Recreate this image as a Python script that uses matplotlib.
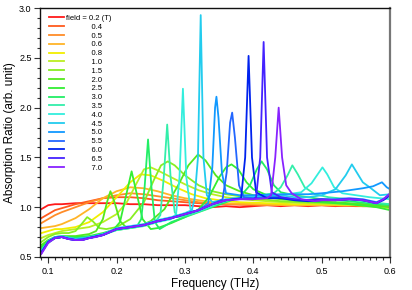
import matplotlib
matplotlib.use("Agg")
import matplotlib.pyplot as plt
from matplotlib.ticker import MultipleLocator

plt.rcParams['font.family'] = ['Liberation Sans', 'DejaVu Sans']

fields = ['0.2', '0.4', '0.5', '0.6', '0.8', '1.0', '1.5', '2.0', '2.5',
          '3.0', '3.5', '4.0', '4.5', '5.0', '5.5', '6.0', '6.5', '7.0']
colors = ['#ff1a1a', '#ff5a1e', '#ff8c28', '#ffb428', '#f2ee00', '#bbee22',
          '#88ee22', '#55e81e', '#33ee33', '#22ee66', '#33eeaa', '#33eedd',
          '#22ccee', '#1199ff', '#2266ff', '#0022ee', '#4422ff', '#8822ff']

# (frequency THz, absorption ratio)
c02 = [(0.09, 0.98), (0.095, 1.00), (0.10, 1.02), (0.11, 1.03), (0.12, 1.03), (0.14, 1.04),
       (0.16, 1.04), (0.18, 1.04), (0.20, 1.04), (0.22, 1.03), (0.24, 1.03), (0.26, 1.02),
       (0.28, 1.02), (0.30, 1.02), (0.32, 1.01), (0.34, 1.00), (0.36, 1.01), (0.38, 1.00),
       (0.40, 1.01), (0.42, 1.02), (0.44, 1.01), (0.46, 1.02), (0.48, 1.01), (0.50, 1.02),
       (0.52, 1.01), (0.54, 1.02), (0.56, 1.01), (0.58, 1.01), (0.60, 1.02)]
c04 = [(0.09, 0.89), (0.10, 0.93), (0.11, 0.97), (0.12, 0.99), (0.14, 1.03), (0.16, 1.06),
       (0.18, 1.09), (0.20, 1.10), (0.22, 1.10), (0.24, 1.09), (0.26, 1.07), (0.28, 1.06),
       (0.30, 1.05), (0.32, 1.04), (0.34, 1.03), (0.36, 1.03), (0.40, 1.02), (0.45, 1.02),
       (0.50, 1.02), (0.55, 1.01), (0.60, 1.01)]
c05 = [(0.09, 0.84), (0.10, 0.88), (0.11, 0.92), (0.12, 0.95), (0.14, 1.00), (0.16, 1.05),
       (0.18, 1.09), (0.20, 1.12), (0.22, 1.14), (0.24, 1.13), (0.26, 1.11), (0.28, 1.09),
       (0.30, 1.07), (0.32, 1.05), (0.34, 1.04), (0.36, 1.03), (0.40, 1.03), (0.45, 1.02),
       (0.50, 1.02), (0.55, 1.02), (0.60, 1.00)]
c06 = [(0.09, 0.79), (0.10, 0.80), (0.11, 0.81), (0.12, 0.83), (0.14, 0.89), (0.16, 0.98),
       (0.18, 1.09), (0.20, 1.16), (0.22, 1.20), (0.24, 1.19), (0.26, 1.16), (0.28, 1.12),
       (0.30, 1.09), (0.32, 1.07), (0.34, 1.05), (0.36, 1.04), (0.40, 1.03), (0.45, 1.02),
       (0.50, 1.02), (0.55, 1.02), (0.60, 1.01)]
c08 = [(0.09, 0.74), (0.10, 0.76), (0.11, 0.78), (0.12, 0.78), (0.14, 0.80), (0.16, 0.85),
       (0.18, 0.95), (0.20, 1.10), (0.22, 1.25), (0.235, 1.33), (0.25, 1.32), (0.27, 1.26),
       (0.29, 1.19), (0.31, 1.13), (0.33, 1.09), (0.35, 1.07), (0.38, 1.05), (0.42, 1.04),
       (0.46, 1.03), (0.50, 1.03), (0.55, 1.02), (0.60, 1.00)]
c10 = [(0.09, 0.69), (0.10, 0.72), (0.11, 0.74), (0.12, 0.76), (0.14, 0.78), (0.16, 0.80),
       (0.18, 0.85), (0.20, 0.93), (0.215, 1.05), (0.23, 1.25), (0.24, 1.38), (0.25, 1.40),
       (0.26, 1.37), (0.28, 1.30), (0.30, 1.23), (0.32, 1.17), (0.34, 1.13), (0.36, 1.10),
       (0.40, 1.07), (0.44, 1.05), (0.48, 1.04), (0.52, 1.03), (0.56, 1.02), (0.60, 0.99)]
c15 = [(0.09, 0.65), (0.10, 0.70), (0.11, 0.73), (0.12, 0.74), (0.13, 0.74), (0.14, 0.76),
       (0.15, 0.84), (0.157, 0.90), (0.165, 0.86), (0.175, 0.79), (0.185, 0.78), (0.20, 0.80),
       (0.22, 0.88), (0.24, 1.05), (0.255, 1.28), (0.265, 1.42), (0.275, 1.46), (0.285, 1.42),
       (0.30, 1.32), (0.32, 1.22), (0.34, 1.16), (0.36, 1.13), (0.38, 1.11), (0.40, 1.09),
       (0.44, 1.06), (0.48, 1.05), (0.52, 1.04), (0.56, 1.03), (0.60, 1.00)]
c20 = [(0.09, 0.62), (0.10, 0.67), (0.11, 0.70), (0.12, 0.71), (0.14, 0.71), (0.16, 0.73),
       (0.17, 0.76), (0.18, 0.88), (0.186, 1.05), (0.191, 1.16), (0.197, 1.05), (0.205, 0.86),
       (0.215, 0.79), (0.23, 0.80), (0.25, 0.86), (0.27, 0.98), (0.29, 1.22), (0.305, 1.42),
       (0.319, 1.53), (0.33, 1.47), (0.345, 1.32), (0.36, 1.22), (0.38, 1.16), (0.40, 1.12),
       (0.44, 1.08), (0.48, 1.06), (0.52, 1.05), (0.56, 1.03), (0.60, 1.00)]
c25 = [(0.09, 0.60), (0.10, 0.66), (0.11, 0.69), (0.12, 0.70), (0.14, 0.70), (0.16, 0.71),
       (0.18, 0.74), (0.195, 0.77), (0.205, 0.85), (0.215, 1.15), (0.222, 1.36), (0.229, 1.15),
       (0.238, 0.88), (0.25, 0.78), (0.26, 0.79), (0.28, 0.84), (0.30, 0.90), (0.32, 0.98),
       (0.335, 1.10), (0.35, 1.30), (0.36, 1.40), (0.368, 1.43), (0.378, 1.38), (0.39, 1.25),
       (0.40, 1.18), (0.42, 1.12), (0.46, 1.07), (0.50, 1.05), (0.54, 1.03), (0.58, 1.00),
       (0.60, 0.97)]
c30 = [(0.09, 0.58), (0.10, 0.65), (0.11, 0.69), (0.12, 0.70), (0.14, 0.69), (0.16, 0.70),
       (0.18, 0.73), (0.20, 0.77), (0.22, 0.79), (0.23, 0.81), (0.236, 0.88), (0.241, 1.20),
       (0.246, 1.68), (0.251, 1.20), (0.256, 0.85), (0.263, 0.78), (0.28, 0.85), (0.30, 0.90),
       (0.32, 0.95), (0.34, 1.00), (0.36, 1.05), (0.38, 1.10), (0.395, 1.22), (0.405, 1.38),
       (0.412, 1.46), (0.42, 1.38), (0.43, 1.22), (0.44, 1.15), (0.46, 1.12), (0.50, 1.08),
       (0.54, 1.06), (0.58, 1.03), (0.60, 1.02)]
c35 = [(0.09, 0.57), (0.10, 0.64), (0.11, 0.69), (0.12, 0.70), (0.14, 0.68), (0.16, 0.69),
       (0.18, 0.72), (0.20, 0.77), (0.22, 0.79), (0.24, 0.81), (0.255, 0.84), (0.264, 0.92),
       (0.269, 1.30), (0.274, 1.83), (0.279, 1.30), (0.285, 0.95), (0.29, 0.90), (0.31, 0.93),
       (0.33, 0.98), (0.35, 1.04), (0.37, 1.08), (0.39, 1.10), (0.41, 1.12), (0.43, 1.14),
       (0.44, 1.20), (0.45, 1.32), (0.457, 1.42), (0.465, 1.33), (0.475, 1.20), (0.49, 1.13),
       (0.51, 1.10), (0.54, 1.08), (0.57, 1.05), (0.60, 1.03)]
c40 = [(0.09, 0.56), (0.10, 0.65), (0.11, 0.69), (0.12, 0.70), (0.14, 0.68), (0.16, 0.69),
       (0.18, 0.72), (0.20, 0.78), (0.22, 0.80), (0.24, 0.82), (0.26, 0.85), (0.28, 0.88),
       (0.287, 0.93), (0.292, 1.30), (0.297, 2.19), (0.302, 1.30), (0.308, 0.98), (0.315, 0.95),
       (0.33, 0.99), (0.35, 1.05), (0.37, 1.09), (0.39, 1.10), (0.41, 1.11), (0.43, 1.12),
       (0.45, 1.13), (0.47, 1.15), (0.485, 1.24), (0.494, 1.33), (0.501, 1.40), (0.508, 1.33),
       (0.518, 1.20), (0.53, 1.14), (0.55, 1.12), (0.57, 1.10), (0.60, 1.08)]
c45 = [(0.09, 0.55), (0.10, 0.66), (0.11, 0.70), (0.12, 0.71), (0.14, 0.68), (0.16, 0.70),
       (0.18, 0.73), (0.20, 0.79), (0.22, 0.81), (0.24, 0.83), (0.26, 0.87), (0.28, 0.90),
       (0.30, 0.94), (0.31, 0.97), (0.314, 1.08), (0.319, 1.50), (0.323, 2.93), (0.327, 1.50),
       (0.332, 1.12), (0.34, 1.05), (0.36, 1.08), (0.38, 1.09), (0.40, 1.10), (0.42, 1.11),
       (0.44, 1.12), (0.46, 1.10), (0.48, 1.10), (0.50, 1.12), (0.52, 1.18), (0.535, 1.32),
       (0.544, 1.43), (0.552, 1.34), (0.56, 1.25), (0.57, 1.20), (0.585, 1.12), (0.60, 1.13)]
c50 = [(0.09, 0.55), (0.10, 0.65), (0.11, 0.70), (0.12, 0.70), (0.14, 0.67), (0.16, 0.69),
       (0.18, 0.72), (0.20, 0.78), (0.22, 0.80), (0.24, 0.82), (0.26, 0.86), (0.28, 0.89),
       (0.30, 0.93), (0.32, 0.97), (0.334, 1.04), (0.34, 1.40), (0.344, 2.00), (0.346, 2.11),
       (0.349, 1.90), (0.354, 1.35), (0.36, 1.14), (0.38, 1.12), (0.40, 1.12), (0.44, 1.13),
       (0.48, 1.13), (0.50, 1.14), (0.53, 1.16), (0.56, 1.19), (0.575, 1.21), (0.588, 1.25),
       (0.595, 1.20), (0.60, 1.18)]
c55 = [(0.09, 0.54), (0.10, 0.65), (0.11, 0.69), (0.12, 0.70), (0.13, 0.68), (0.14, 0.67),
       (0.16, 0.69), (0.18, 0.72), (0.20, 0.78), (0.22, 0.80), (0.24, 0.82), (0.26, 0.86),
       (0.28, 0.89), (0.30, 0.93), (0.32, 0.97), (0.34, 1.03), (0.355, 1.08), (0.361, 1.35),
       (0.366, 1.85), (0.369, 1.95), (0.373, 1.70), (0.379, 1.22), (0.386, 1.10), (0.40, 1.09),
       (0.42, 1.10), (0.44, 1.10), (0.46, 1.08), (0.48, 1.07), (0.50, 1.08), (0.52, 1.08),
       (0.54, 1.09), (0.56, 1.08), (0.58, 1.05), (0.59, 1.08), (0.60, 1.13)]
c60 = [(0.09, 0.54), (0.10, 0.65), (0.11, 0.69), (0.12, 0.70), (0.13, 0.68), (0.14, 0.67),
       (0.15, 0.67), (0.16, 0.69), (0.18, 0.72), (0.20, 0.78), (0.22, 0.80), (0.24, 0.82),
       (0.26, 0.86), (0.28, 0.89), (0.30, 0.93), (0.32, 0.97), (0.34, 1.03), (0.36, 1.07),
       (0.382, 1.09), (0.388, 1.50), (0.393, 2.52), (0.398, 1.50), (0.404, 1.15), (0.42, 1.09),
       (0.44, 1.09), (0.46, 1.07), (0.48, 1.06), (0.50, 1.07), (0.52, 1.07), (0.54, 1.08),
       (0.56, 1.07), (0.58, 1.04), (0.59, 1.07), (0.60, 1.12)]
c65 = [(0.09, 0.54), (0.10, 0.65), (0.11, 0.69), (0.12, 0.70), (0.13, 0.68), (0.14, 0.67),
       (0.15, 0.67), (0.16, 0.69), (0.18, 0.72), (0.20, 0.78), (0.22, 0.80), (0.24, 0.82),
       (0.26, 0.86), (0.28, 0.89), (0.30, 0.93), (0.32, 0.97), (0.34, 1.03), (0.36, 1.07),
       (0.38, 1.08), (0.40, 1.08), (0.404, 1.10), (0.41, 1.50), (0.415, 2.66), (0.42, 1.50),
       (0.427, 1.15), (0.44, 1.10), (0.46, 1.08), (0.48, 1.07), (0.50, 1.08), (0.52, 1.07),
       (0.54, 1.08), (0.56, 1.07), (0.58, 1.04), (0.59, 1.08), (0.60, 1.13)]
c70 = [(0.09, 0.53), (0.10, 0.64), (0.11, 0.69), (0.12, 0.70), (0.13, 0.68), (0.14, 0.67),
       (0.15, 0.67), (0.16, 0.69), (0.17, 0.70), (0.18, 0.72), (0.19, 0.75), (0.20, 0.78),
       (0.22, 0.80), (0.24, 0.82), (0.26, 0.86), (0.28, 0.89), (0.30, 0.93), (0.32, 0.97),
       (0.34, 1.03), (0.36, 1.07), (0.38, 1.08), (0.40, 1.08), (0.42, 1.09), (0.426, 1.12),
       (0.432, 1.50), (0.437, 2.00), (0.442, 1.50), (0.448, 1.22), (0.456, 1.14), (0.47, 1.08),
       (0.49, 1.06), (0.50, 1.07), (0.52, 1.07), (0.54, 1.08), (0.56, 1.07), (0.58, 1.04),
       (0.59, 1.08), (0.60, 1.14)]

curves = [c02, c04, c05, c06, c08, c10, c15, c20, c25,
          c30, c35, c40, c45, c50, c55, c60, c65, c70]

fig = plt.figure(figsize=(4.12, 2.90), dpi=100)
ax = fig.add_axes([0.097, 0.114, 0.850, 0.858])

for i, (pts, col) in enumerate(zip(curves, colors)):
    xs = [p[0] for p in pts]
    ys = [p[1] for p in pts]
    lab = 'field = ' + fields[i] + ' (T)' if i == 0 else ' ' * 12 + fields[i]
    ax.plot(xs, ys, color=col, lw=1.3, label=lab, solid_joinstyle='round')

ax.set_xlim(0.088, 0.6)
ax.set_ylim(0.5, 3.0)
ax.xaxis.set_major_locator(MultipleLocator(0.1))
ax.xaxis.set_minor_locator(MultipleLocator(0.01))
ax.yaxis.set_major_locator(MultipleLocator(0.5))
ax.yaxis.set_minor_locator(MultipleLocator(0.1))
ax.tick_params(which='both', direction='out', top=False, right=False, labelsize=6.5,
               color='#333333', width=0.8)
ax.tick_params(which='major', length=4.5)
ax.tick_params(which='minor', length=2.5)
ax.tick_params(axis='x', pad=3)
ax.tick_params(axis='y', pad=1.5)
for side in ['left', 'top', 'bottom']:
    ax.spines[side].set_linewidth(1.0)
    ax.spines[side].set_color('#111111')
ax.spines['right'].set_linewidth(1.6)
ax.spines['right'].set_color('#777777')

ax.set_xlabel('Frequency (THz)', fontsize=8.5, labelpad=1)
ax.set_ylabel('Absorption Ratio (arb. unit)', fontsize=8.5, labelpad=2)

ax.legend(loc='upper left', frameon=False, fontsize=5.5, handlelength=2.0,
          handletextpad=0.3, labelspacing=0.19, borderaxespad=0.3,
          bbox_to_anchor=(0.01, 0.995))

fig.savefig('out.png', dpi=100)
